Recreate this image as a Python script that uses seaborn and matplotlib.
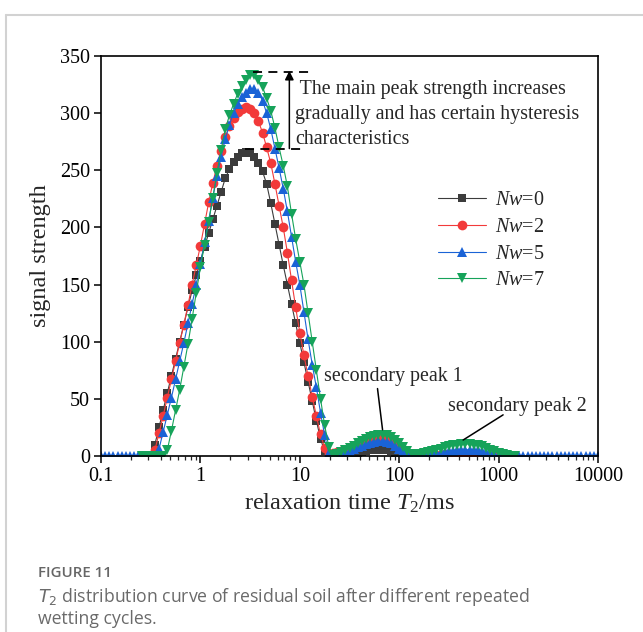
import numpy as np
import pandas as pd
import matplotlib
matplotlib.use("Agg")
import matplotlib.pyplot as plt
import seaborn as sns
from matplotlib.lines import Line2D
from matplotlib.ticker import FixedLocator, FixedFormatter, LogLocator, NullFormatter

# ---- data -------------------------------------------------------------
# T2 relaxation-time grid of the inversion (24 points per decade, 0.1-10000 ms)
t2_grid = np.logspace(-1, 4, 121)

# Nw = 0 : grid indices 11..78
nw0_start = 11
nw0_signal = [0, 0, 10, 25, 40, 55, 70, 85, 100, 115, 130, 145, 158, 171, 183, 195,
              207, 219, 231, 243, 251, 257, 262, 265, 266, 265, 262, 256, 249, 238,
              221, 203, 185, 167, 150, 133, 116, 99, 82, 65, 48, 31, 15, 4, 0, 0,
              0, 0.5, 1, 1.5, 2, 3, 3.5, 4.5, 5, 5.5, 5.5, 5.5, 5, 4, 3, 1.5, 0.5,
              0, 0, 0, 0, 0]

# Nw = 2 : grid indices 11..96
nw2_start = 11
nw2_signal = [0, 0, 5, 20, 35, 51, 67, 83, 99, 115, 132, 150, 167, 184, 203, 222,
              239, 254, 267, 279, 289, 296, 301, 304, 305, 304, 300, 293, 283, 270,
              256, 238, 219, 200, 178, 154, 130, 108, 88, 70, 52, 35, 19, 7, 2,
              3, 3.5, 4, 5, 6, 7.5, 9, 10.5, 12, 13.5, 14.5, 15, 15, 14, 12.5, 10,
              7, 4, 2, 0.5, 0, 0, 0, 0, 0, 0.5, 1, 1.5, 2, 2, 2.5, 2.5, 2, 2, 1.5,
              1, 0.5, 0, 0, 0, 0]

# Nw = 5 : grid indices 0..120
nw5_start = 0
nw5_signal = ([0] * 14 +
              [6, 21, 36, 51, 67, 83, 99, 116, 133, 150, 168, 187, 206, 226, 245,
               262, 277, 290, 300, 308, 314, 318, 321, 321, 318, 311, 300, 286, 269,
               252, 234, 214, 192, 170, 150, 126, 102, 80, 60, 38, 18, 3,
               1, 1.5, 2.5, 3.5, 4.5, 6, 7.5, 9, 10.5, 11.5, 12.5, 13, 13, 12.5, 11,
               9, 6.5, 4, 2, 0.5, 0, 0, 0.5, 1, 1.5, 2.5, 3, 3.5, 4, 4.5, 5, 5.5,
               5.5, 5.5, 5.5, 5, 4.5, 3.5, 2.5, 1.5, 0.5] +
              [0] * 24)

# Nw = 7 : grid indices 10..100
nw7_start = 10
nw7_signal = [0, 0, 0, 0, 0, 0, 5, 22, 40, 58, 78, 98, 120, 143, 165, 185, 205,
              226, 248, 268, 286, 298, 308, 317, 324, 329, 333, 333, 329, 323, 313,
              302, 287, 270, 254, 236, 212, 190, 170, 150, 125, 100, 75, 50, 27, 8,
              1, 2, 3.5, 5, 7, 9, 11, 13, 15, 16.5, 17.5, 18.5, 18.5, 18, 16.5, 14,
              11, 7.5, 4, 2, 1.5, 2, 2.5, 3.5, 4.5, 5.5, 6.5, 7.5, 8.5, 9.5, 10,
              10.5, 10.5, 10.5, 10, 9.5, 8.5, 7, 5.5, 4, 2.5, 1.5, 0.5, 0, 0]

series_labels = ["Nw=0", "Nw=2", "Nw=5", "Nw=7"]
x_tick_values = [0.1, 1, 10, 100, 1000, 10000]
x_tick_labels = ["0.1", "1", "10", "100", "1000", "10000"]
y_tick_values = [0, 50, 100, 150, 200, 250, 300, 350]

# ---- style ------------------------------------------------------------
sns.set_style("ticks")
plt.rcParams["font.family"] = ["Liberation Serif", "DejaVu Serif"]
plt.rcParams["mathtext.fontset"] = "custom"
plt.rcParams["mathtext.rm"] = "Liberation Serif"
plt.rcParams["mathtext.it"] = "Liberation Serif:italic"
plt.rcParams["mathtext.bf"] = "Liberation Serif:bold"

W, H = 643, 632
fig = plt.figure(figsize=(W / 100, H / 100), dpi=100)
fig.patch.set_facecolor("white")


def fx(px):
    return px / W


def fy(py):
    return 1 - py / H


ax = fig.add_axes([fx(101), fy(456), fx(598) - fx(101), fy(56) - fy(456)])

frames = []
for lab, start, vals in zip(series_labels,
                            [nw0_start, nw2_start, nw5_start, nw7_start],
                            [nw0_signal, nw2_signal, nw5_signal, nw7_signal]):
    frames.append(pd.DataFrame({"T2": t2_grid[start:start + len(vals)],
                                "signal": vals, "Nw": lab}))
df = pd.concat(frames, ignore_index=True)

styles = {
    "Nw=0": dict(color="#3c3c3c", marker="s", ms=6.4),
    "Nw=2": dict(color="#f23a3a", marker="o", ms=7.0),
    "Nw=5": dict(color="#1a63d6", marker="^", ms=7.8),
    "Nw=7": dict(color="#16a35a", marker="v", ms=7.8),
}
legend_text = {
    "Nw=0": r"$\mathit{Nw}$=0",
    "Nw=2": r"$\mathit{Nw}$=2",
    "Nw=5": r"$\mathit{Nw}$=5",
    "Nw=7": r"$\mathit{Nw}$=7",
}

for lab in series_labels:
    st = styles[lab]
    sub = df[df["Nw"] == lab]
    sns.lineplot(data=sub, x="T2", y="signal", ax=ax, color=st["color"],
                 marker=st["marker"], markersize=st["ms"], markeredgewidth=0,
                 linewidth=0.8, label=legend_text[lab], sort=True,
                 errorbar=None, estimator=None)

ax.set_xscale("log")
ax.set_xlim(0.1, 10000)
ax.set_ylim(0, 350)
ax.xaxis.set_major_locator(FixedLocator(x_tick_values))
ax.xaxis.set_major_formatter(FixedFormatter(x_tick_labels))
ax.xaxis.set_minor_locator(LogLocator(base=10, subs=np.arange(2, 10)))
ax.xaxis.set_minor_formatter(NullFormatter())
ax.yaxis.set_major_locator(FixedLocator(y_tick_values))

for sp in ax.spines.values():
    sp.set_visible(True)
    sp.set_linewidth(1.2)
    sp.set_color("black")
ax.tick_params(axis="both", which="major", direction="out", length=5, width=1.1,
               labelsize=14.5, colors="black", pad=3)
ax.tick_params(axis="x", which="minor", direction="out", length=3, width=0.9)
ax.set_facecolor("white")

ax.set_xlabel(r"relaxation time $\mathit{T}_2$/ms", fontsize=17.5, labelpad=4)
ax.set_ylabel("signal strength", fontsize=17.5, labelpad=6)

# legend
leg = ax.legend(loc="upper left", bbox_to_anchor=((438 - 101) / 497, (456 - 191) / 400),
                frameon=False, fontsize=14.5, handlelength=2.4, handletextpad=0.45,
                labelspacing=0.38, borderpad=0, borderaxespad=0)

# main-peak annotation
ax.plot([3.4, 12.8], [336, 336], color="black", lw=1.3, ls=(0, (5, 3.5)))
ax.plot([2.83, 10.9], [269, 269], color="black", lw=1.3, ls=(0, (5, 3.5)))
ax.annotate("", xy=(7.85, 337), xytext=(7.85, 269),
            arrowprops=dict(arrowstyle="-|>", color="black", lw=1.1,
                            mutation_scale=13, shrinkA=0, shrinkB=0))
for txt, base in [(" The main peak strength increases", 94),
                  ("gradually and has certain hysteresis", 119),
                  ("characteristics", 144)]:
    fig.text(fx(295), fy(base), txt, fontsize=14.4, va="baseline", ha="left")

# secondary peaks
fig.text(fx(393), fy(381), "secondary peak 1", fontsize=14.4, ha="center", va="baseline")
fig.text(fx(517), fy(411), "secondary peak 2", fontsize=14.4, ha="center", va="baseline")
ax.annotate("", xy=(68, 23), xytext=(60.5, 59),
            arrowprops=dict(arrowstyle="-", color="black", lw=1.1, shrinkA=0, shrinkB=0))
ax.annotate("", xy=(440, 14), xytext=(1110, 36),
            arrowprops=dict(arrowstyle="-", color="black", lw=1.1, shrinkA=0, shrinkB=0))

# card border and caption
fig.add_artist(Line2D([fx(6), fx(6)], [0, fy(15)], color="#d2d2d2", lw=1.5))
fig.add_artist(Line2D([fx(6), 1], [fy(15), fy(15)], color="#d2d2d2", lw=1.5))
fig.text(fx(38), fy(573), "FIGURE 11", fontsize=10.8, color="#666666",
         family="Open Sans", weight="semibold", va="center")
fig.text(fx(38), fy(597),
         r"$T_2$ distribution curve of residual soil after different repeated",
         fontsize=12.7, color="#6a6a6a", family="Open Sans", va="center",
         math_fontfamily="dejavusans")
fig.text(fx(38), fy(619), "wetting cycles.", fontsize=12.7, color="#6a6a6a",
         family="Open Sans", va="center")

fig.savefig("out.png", dpi=100, facecolor="white")
